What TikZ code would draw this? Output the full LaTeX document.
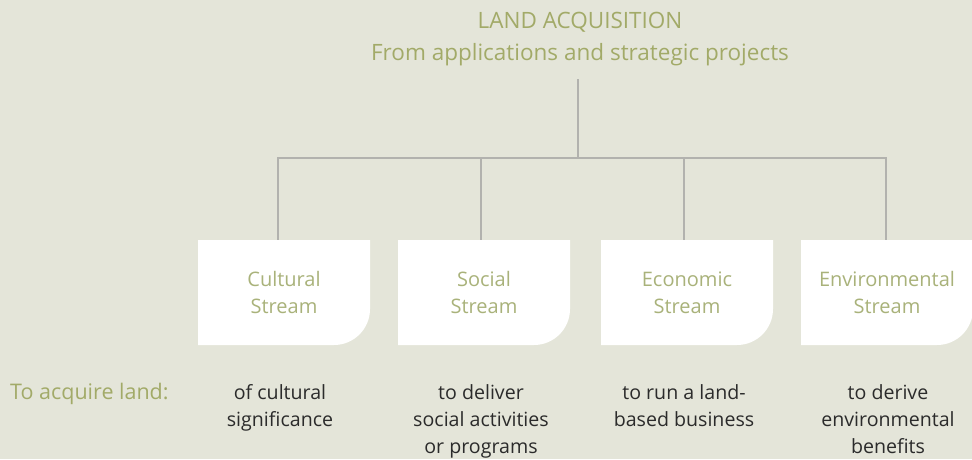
\documentclass[tikz,border=0pt]{standalone}
\usepackage{fontspec}
\setmainfont{Open Sans}
\usetikzlibrary{positioning}

\definecolor{paper}{HTML}{E4E5D9}
\definecolor{olive}{HTML}{A2AA68}
\definecolor{palegreen}{HTML}{A9B27A}
\definecolor{ink}{HTML}{2B2B2B}
\definecolor{wire}{HTML}{B2B2AE}

\begin{document}
\begin{tikzpicture}[x=1pt,y=-1pt]

\tikzstyle{heading}=[align=center, inner sep=0pt, text=olive, font=\fontsize{22.5}{32}\selectfont]
\tikzstyle{stream}=[minimum width=172pt, minimum height=105pt, inner sep=0pt, align=center, text=palegreen, font=\fontsize{20}{27}\selectfont,
  path picture={\fill[white] (path picture bounding box.north west) -- (path picture bounding box.north east)
    -- ([yshift=36pt]path picture bounding box.south east) arc[start angle=0, end angle=-90, radius=36pt]
    -- (path picture bounding box.south west) -- cycle;}]
\tikzstyle{aim}=[align=center, inner sep=0pt, anchor=north, text=ink, font=\fontsize{19.6}{27}\selectfont]
\tikzstyle{link}=[draw=wire, line width=1.6pt]

% page
\fill[paper] (0,0) rectangle (972,459);
\useasboundingbox (0,0) rectangle (972,459);

\node[heading] (title) at (580,39) {LAND ACQUISITION\\From applications and strategic projects};

\node[stream] (cultural) at (284,292.5) {Cultural\\Stream};
\node[stream] (social) at (484,292.5) {Social\\Stream};
\node[stream] (economic) at (687,292.5) {Economic\\Stream};
\node[stream] (environmental) at (887,292.5) {Environmental\\Stream};

\node[heading, anchor=west, font=\fontsize{21.5}{27}\selectfont] (lead) at (10,394) {To acquire land:};

\node[aim] (culturalaim) at (280,384.5) {of cultural\\significance};
\node[aim] (socialaim) at (481,384.5) {to deliver\\social activities\\or programs};
\node[aim] (economicaim) at (684,384.5) {to run a land-\\based business};
\node[aim] (environmentalaim) at (888,384.5) {to derive\\environmental\\benefits};

% tree
\coordinate (hub) at (578,158);
\draw[link, shorten <=13pt] (title.south -| hub) -- (hub);
\foreach \s/\d in {cultural/-6pt, social/-3pt, economic/-3pt, environmental/-1pt}
  \draw[link] (hub) -| ([xshift=\d]\s.north);

\end{tikzpicture}
\end{document}
